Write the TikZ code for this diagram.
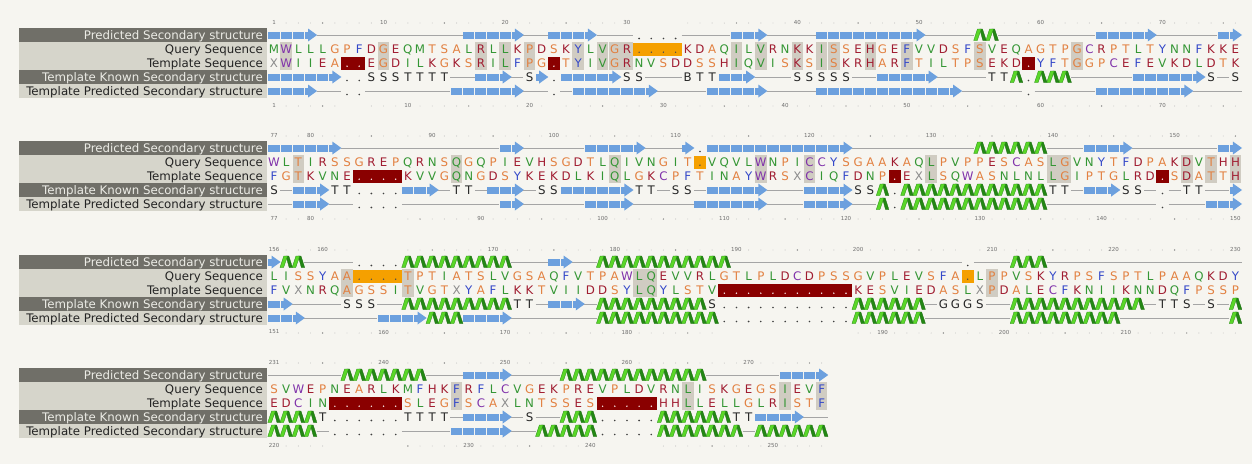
\documentclass[tikz,border=0pt]{standalone}
\usepackage{fontspec}
\setmainfont{DejaVu Sans}
\usepackage{xstring}

\definecolor{bg}{RGB}{246,245,240}
\definecolor{lbdark}{RGB}{112,111,104}
\definecolor{lblight}{RGB}{214,213,203}
\definecolor{lbdarktext}{RGB}{236,236,230}
\definecolor{lblighttext}{RGB}{35,35,35}
\definecolor{cgreen}{RGB}{52,150,52}
\definecolor{corange}{RGB}{226,128,64}
\definecolor{cred}{RGB}{160,28,48}
\definecolor{cblue}{RGB}{50,70,200}
\definecolor{cpurple}{RGB}{128,50,170}
\definecolor{cgray}{RGB}{140,140,140}
\definecolor{hlc}{RGB}{208,204,194}
\definecolor{qgapc}{RGB}{245,160,0}
\definecolor{tgapc}{RGB}{138,0,0}
\definecolor{strandc}{RGB}{108,160,222}
\definecolor{helixc}{RGB}{90,215,40}
\definecolor{helixd}{RGB}{35,135,20}
\definecolor{coilc}{RGB}{165,165,165}
\definecolor{rulerc}{RGB}{110,110,110}

\colorlet{aaM}{cgreen}\colorlet{aaL}{cgreen}\colorlet{aaI}{cgreen}
\colorlet{aaV}{cgreen}\colorlet{aaN}{cgreen}\colorlet{aaQ}{cgreen}
\colorlet{aaA}{corange}\colorlet{aaG}{corange}\colorlet{aaP}{corange}
\colorlet{aaS}{corange}\colorlet{aaT}{corange}
\colorlet{aaD}{cred}\colorlet{aaE}{cred}\colorlet{aaK}{cred}
\colorlet{aaR}{cred}\colorlet{aaH}{cred}
\colorlet{aaF}{cblue}\colorlet{aaY}{cblue}
\colorlet{aaW}{cpurple}\colorlet{aaC}{cpurple}
\colorlet{aaX}{cgray}

\newcount\colcount
\newcount\rescount
\def\xzero{274}
\def\dx{12.17}

\tikzset{
  seqletter/.style={font=\fontsize{11.8}{12}\selectfont, inner sep=0pt, anchor=base},
  ssletter/.style={font=\fontsize{11.8}{12}\selectfont, inner sep=0pt, anchor=base, text=black!85},
  rulerlab/.style={font=\fontsize{5.5}{5.5}\selectfont, inner sep=0pt, text=rulerc},
  lbtextd/.style={font=\fontsize{11.8}{12}\selectfont, inner sep=0pt, anchor=base east, text=lbdarktext},
  lbtextl/.style={font=\fontsize{11.8}{12}\selectfont, inner sep=0pt, anchor=base east, text=lblighttext},
  coil/.style={draw=coilc, line width=0.6pt},
  helixlight/.style={fill=helixc, draw=helixd, line width=0.3pt, line join=round},
  helixdark/.style={fill=helixd, draw=helixd!80!black, line width=0.3pt, line join=round},
}

% secondary structure row: #1 y, #2 runs code/length
\newcommand\ssrow[2]{%
  \global\colcount=0\relax
  \foreach \cd/\nr in {#2}{%
    \pgfmathtruncatemacro\sa{\the\colcount+1}%
    \pgfmathtruncatemacro\ea{\the\colcount+\nr}%
    \global\advance\colcount by \nr\relax
    \if\cd E%
      \foreach \k in {\sa,...,\ea}{%
        \pgfmathsetmacro\xx{\xzero+(\k-1)*\dx}%
        \ifnum\k=\ea\relax
          \fill[strandc] (\xx-\dx/2+0.5,#1-3.5) rectangle (\xx-2,#1+3.5);%
          \fill[strandc] (\xx-2.5,#1-6.5) -- (\xx+\dx/2+0.5,#1) -- (\xx-2.5,#1+6.5) -- cycle;%
        \else
          \fill[strandc] (\xx-\dx/2+0.5,#1-3.5) rectangle (\xx+\dx/2-0.5,#1+3.5);%
        \fi
      }%
    \else\if\cd H%
      \foreach \k in {\sa,...,\ea}{%
        \pgfmathsetmacro\xx{\xzero+(\k-1)*\dx}%
        \filldraw[helixdark] (\xx-0.2,#1-6) -- (\xx+2.6,#1-6) -- (\xx+6.4,#1+5.5) -- (\xx+3.0,#1+5.5) -- cycle;%
        \filldraw[helixlight] (\xx-6.2,#1+5.5) -- (\xx-2.4,#1-6) -- (\xx+1.4,#1-6) -- (\xx-2.6,#1+5.5) -- cycle;%
      }%
    \else\if\cd -%
      \draw[coil] ({\xzero+(\sa-1.5)*\dx},#1) -- ({\xzero+(\ea-0.5)*\dx},#1);%
    \else\if\cd .%
      \foreach \k in {\sa,...,\ea}{%
        \pgfmathsetmacro\xx{\xzero+(\k-1)*\dx}%
        \fill[black!75] (\xx,#1+3.5) circle (0.9);%
      }%
    \else
      \foreach \k in {\sa,...,\ea}{%
        \pgfmathsetmacro\xx{\xzero+(\k-1)*\dx}%
        \node[ssletter] at (\xx,#1+4.3) {\cd};%
      }%
    \fi\fi\fi\fi
  }%
}

% query/template pair: #1 y of query row, #2 query, #3 template
\newcommand\seqpair[3]{%
  \StrLen{#2}[\nlen]%
  \foreach \i in {1,...,\nlen}{%
    \StrChar{#2}{\i}[\qc]%
    \StrChar{#3}{\i}[\tc]%
    \pgfmathsetmacro\xx{\xzero+(\i-1)*\dx}%
    \if\qc.\relax\else\if\qc\tc
      \fill[hlc] (\xx-\dx/2+0.3,#1-7) rectangle (\xx+\dx/2-0.3,#1+21);%
    \fi\fi
    \if\qc.\relax
      \fill[qgapc] (\xx-\dx/2,#1-6.5) rectangle (\xx+\dx/2,#1+6.5);%
      \fill[black!70] (\xx,#1+3.2) circle (0.8);%
    \else
      \edef\cn{aa\qc}%
      \node[seqletter,text=\cn] at (\xx,#1+4.3) {\qc};%
    \fi
    \if\tc.\relax
      \fill[tgapc] (\xx-\dx/2,#1+7.5) rectangle (\xx+\dx/2,#1+20.5);%
      \fill[white!75!pink] (\xx,#1+17.2) circle (0.8);%
    \else
      \edef\cn{aa\tc}%
      \node[seqletter,text=\cn] at (\xx,#1+18.3) {\tc};%
    \fi
  }%
}

% ruler: #1 y, #2 sequence, #3 first number
\newcommand\ruler[3]{%
  \global\rescount=#3\relax
  \global\advance\rescount by -1\relax
  \StrLen{#2}[\nlen]%
  \foreach \i in {1,...,\nlen}{%
    \StrChar{#2}{\i}[\qc]%
    \if\qc.\relax\else
      \global\advance\rescount by 1\relax
      \pgfmathsetmacro\xx{\xzero+(\i-1)*\dx}%
      \pgfmathtruncatemacro\md{mod(\the\rescount,10)}%
      \pgfmathtruncatemacro\mf{mod(\the\rescount,5)}%
      \edef\rr{\the\rescount}%
      \ifnum\i=1\relax \node[rulerlab] at (\xx,#1) {\rr};%
      \else\ifnum\md=0\relax \node[rulerlab] at (\xx,#1) {\rr};%
      \else\ifnum\mf=0\relax \fill[rulerc] (\xx,#1+1) circle (0.7);%
      \else \fill[rulerc!60] (\xx,#1+1) circle (0.45);%
      \fi\fi\fi
    \fi
  }%
}

% labels: #1 y of first row, #2 name prefix
\newcommand\labels[2]{%
  \fill[lbdark] (19,#1-7) rectangle (267,#1+7);
  \node[lbtextd] (#2pss) at (263,#1+4.2) {Predicted Secondary structure};
  \fill[lblight] (19,#1+7) rectangle (267,#1+35);
  \node[lbtextl] (#2qs) at (263,#1+18.2) {Query Sequence};
  \node[lbtextl] (#2ts) at (263,#1+32.2) {Template Sequence};
  \fill[lbdark] (19,#1+35) rectangle (267,#1+49);
  \node[lbtextd] (#2tks) at (263,#1+46.2) {Template Known Secondary structure};
  \fill[lblight] (19,#1+49) rectangle (267,#1+63);
  \node[lbtextl] (#2tps) at (263,#1+60.2) {Template Predicted Secondary structure};
}

\begin{document}
\begin{tikzpicture}[x=1pt,y=-1pt]
\fill[bg] (0,0) rectangle (1252,464);
\useasboundingbox (0,0) rectangle (1252,464);

% ---------------- block 1
\labels{35}{ba}
\ruler{22}{MWLLLGPFDGEQMTSALRLLKPDSKYLVGR....KDAQILVRNKKISSEHGEFVVDSFSVEQAGTPGCRPTLTYNNFKKE}{1}
\ssrow{35}{E/4,-/12,E/5,-/2,E/4,-/3,./4,-/4,E/3,-/4,E/9,-/4,H/2,-/8,E/5,-/5,E/2}
\seqpair{49}{MWLLLGPFDGEQMTSALRLLKPDSKYLVGR....KDAQILVRNKKISSEHGEFVVDSFSVEQAGTPGCRPTLTYNNFKKE}{XWIIEA..EGDILKGKSRILFPG.TYIVGRNVSDDSSHIQVISKSISKRHARFTILTPSEKD.YFTGGPCEFEVKDLDTK}
\ssrow{77}{E/6,./2,S/3,T/4,-/2,E/3,-/1,S/1,E/1,./1,E/5,S/2,-/3,B/1,T/2,E/3,-/3,S/5,-/2,E/5,-/4,T/2,H/1,./1,H/3,-/5,E/6,S/1,-/1,S/1}
\ssrow{91}{E/4,-/2,./2,-/7,E/6,-/2,./1,-/1,E/7,-/4,E/5,-/4,E/12,-/5,./1,-/5,E/8,-/4}
\ruler{105}{XWIIEA..EGDILKGKSRILFPG.TYIVGRNVSDDSSHIQVISKSISKRHARFTILTPSEKD.YFTGGPCEFEVKDLDTK}{1}

% ---------------- block 2
\labels{148}{bb}
\ruler{135}{WLTIRSSGREPQRNSQGQPIEVHSGDTLQIVNGIT.VQVLWNPICCYSGAAKAQLPVPPESCASLGVNYTFDPAKDVTHH}{77}
\ssrow{148}{E/6,-/13,E/2,-/5,E/5,-/3,E/1,./1,E/12,-/10,H/6,-/3,E/4,-/7,E/2}
\seqpair{162}{WLTIRSSGREPQRNSQGQPIEVHSGDTLQIVNGIT.VQVLWNPICCYSGAAKAQLPVPPESCASLGVNYTFDPAKDVTHH}{FGTKVNE....KVVGQNGDSYKEKDLKIQLGKCPFTINAYWRSXCIQFDNP.EXLSQWASNLNLLGIPTGLRD.SDATTH}
\ssrow{190}{S/1,-/1,E/3,T/2,./4,E/3,-/1,T/2,-/1,E/3,-/1,S/2,E/6,T/2,-/1,S/2,-/1,E/5,-/3,E/4,S/2,H/1,./1,H/12,T/2,-/1,E/3,S/2,-/1,./1,-/1,T/2,-/2,E/1}
\ssrow{204}{-/2,E/3,-/2,./4,-/8,E/2,-/5,E/4,-/5,E/6,-/3,E/4,-/2,H/1,./1,H/12,-/9,./1,-/3,E/3}
\ruler{218}{FGTKVNE....KVVGQNGDSYKEKDLKIQLGKCPFTINAYWRSXCIQFDNP.EXLSQWASNLNLLGIPTGLRD.SDATTH}{77}

% ---------------- block 3
\labels{262}{bc}
\ruler{249}{LISSYAA....TPTIATSLVGSAQFVTPAWLQEVVRLGTLPLDCDPSSGVPLEVSFA.LPPVSKYRPSFSPTLPAAQKDY}{156}
\ssrow{262}{E/1,H/2,-/4,./4,H/9,-/3,E/2,-/2,H/11,-/19,./1,-/3,H/3,-/16}
\seqpair{276}{LISSYAA....TPTIATSLVGSAQFVTPAWLQEVVRLGTLPLDCDPSSGVPLEVSFA.LPPVSKYRPSFSPTLPAAQKDY}{FVXNRQAGSSITVGTXYAFLKKTVIIDDSYLQYLSTV...........KESVIEDASLXPDALECFKNIIKNNDQFPSSP}
\ssrow{304}{E/2,-/4,S/3,-/2,H/9,T/2,-/1,E/3,-/1,H/9,S/1,./11,H/6,-/1,G/3,S/1,-/2,H/11,-/1,T/2,S/1,-/1,S/1,-/1,H/1}
\ssrow{318}{E/3,-/6,E/4,H/3,E/4,-/7,H/10,./11,H/6,-/7,H/9,-/9,H/1}
\ruler{332}{FVXNRQAGSSITVGTXYAFLKKTVIIDDSYLQYLSTV...........KESVIEDASLXPDALECFKNIIKNNDQFPSSP}{151}

% ---------------- block 4
\labels{375}{bd}
\ruler{362}{SVWEPNEARLKMFHKFRFLCVGEKPREVPLDVRNLISKGEGSIEVF}{231}
\ssrow{375}{-/6,H/7,-/3,E/4,-/4,H/12,-/6,E/4}
\seqpair{389}{SVWEPNEARLKMFHKFRFLCVGEKPREVPLDVRNLISKGEGSIEVF}{EDCIN......SLEGFSCAXLNTSSES.....HHLLELLGLRISTF}
\ssrow{417}{H/4,T/1,./6,T/4,-/1,E/4,-/1,S/1,-/2,H/3,./5,H/6,T/2,E/4,-/2}
\ssrow{431}{H/4,-/1,./6,-/4,E/5,-/2,H/5,./5,H/7,-/1,H/6}
\ruler{445}{EDCIN......SLEGFSCAXLNTSSES.....HHLLELLGLRISTF}{220}
\end{tikzpicture}
\end{document}
